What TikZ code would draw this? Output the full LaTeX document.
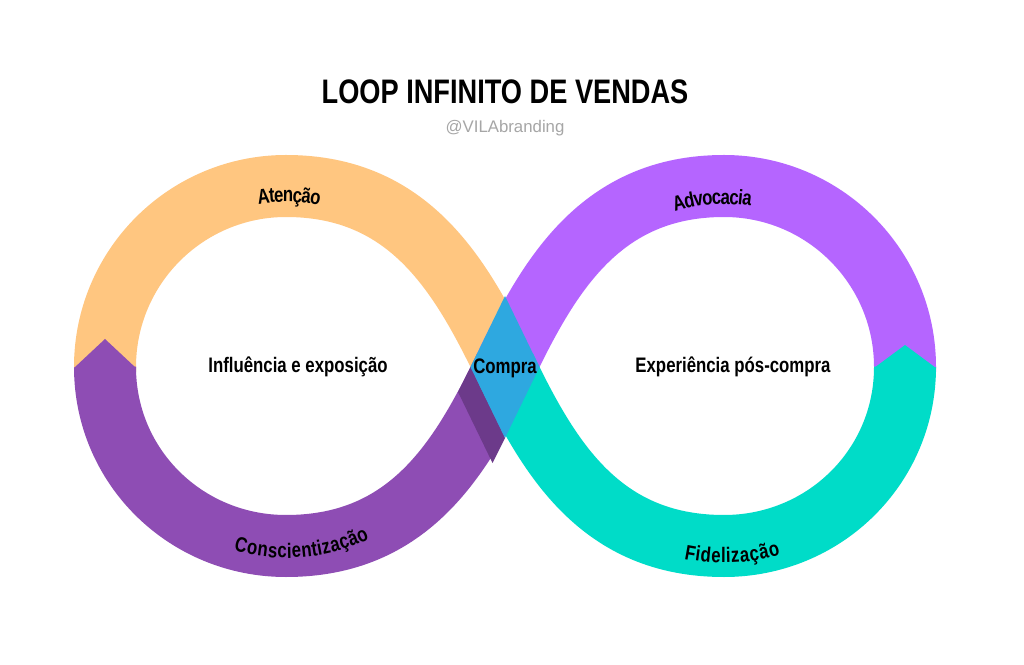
\documentclass[tikz,border=0pt]{standalone}
\usepackage{fontspec}
\setmainfont{Liberation Sans}
\newfontfamily\condfont[FakeStretch=0.8]{Liberation Sans}
\usetikzlibrary{decorations.text}

\definecolor{laranja}{HTML}{FFC680}
\definecolor{roxo}{HTML}{8E4DB4}
\definecolor{lilas}{HTML}{B565FF}
\definecolor{turquesa}{HTML}{00DCC8}
\definecolor{azul}{HTML}{2EA8E0}
\definecolor{roxoesc}{HTML}{6C3A8A}
\definecolor{cinza}{HTML}{A6A6A6}

\newcommand{\lblfont}{\condfont\bfseries\fontsize{21}{24}\selectfont}
\newcommand{\titfont}{\condfont\bfseries\fontsize{34}{40}\selectfont}

\tikzset{
  band/.style={line width=62pt},
  etapa/.style={font=\lblfont, anchor=base},
  rotulo/.style 2 args={decorate, decoration={text along path, text align=center, raise=#2, text={|\lblfont|#1}}}
}

\begin{document}
\begin{tikzpicture}[x=1pt,y=1pt]
	\useasboundingbox [fill=white] (0,0) rectangle (1024,664);
	% left loop
	\draw [band,laranja] (505,297) .. controls (461,388) and (410,478) .. (286,478)
		.. controls (186,478) and (105,397) .. (105,297) -- (105,292);
	% right loop
	\draw [band,lilas] (505,297) .. controls (549,388) and (600,478) .. (724,478)
		.. controls (824,478) and (905,397) .. (905,297) -- (905,292);
	\draw [band,roxo] (105,297) .. controls (105,197) and (186,118) .. (286,118)
		.. controls (410,118) and (461,206) .. (505,297);
	\draw [band,turquesa] (905,297) .. controls (905,197) and (824,118) .. (724,118)
		.. controls (600,118) and (549,206) .. (505,297);
	% junctions
	\fill [roxo] (74,296) -- (105,325) -- (136,296) -- cycle;
	\fill [turquesa] (874,296) -- (905,319) -- (936,296) -- cycle;
	% crossing
	\fill [roxoesc] (470.5,297) -- (505,226) -- (492.5,201) -- (458,272) -- cycle;
	\fill [azul] (505,368) -- (539.5,297) -- (505,226) -- (470.5,297) -- cycle;
	% labels on the bands
	\path [rotulo={Atenção}{-16pt}] (160.3,427.2) arc [start angle=134, end angle=44, radius=181pt];
	\path [rotulo={Advocacia}{-18pt}] (587.4,415.7) arc [start angle=139, end angle=49, radius=181pt];
	\path [rotulo={Conscientização}{-10pt}] (182.2,148.7) arc [start angle=235, end angle=315, radius=181pt];
	\path [rotulo={Fidelização}{-15pt}] (613.8,153.4) arc [start angle=232.5, end angle=312.5, radius=181pt];
	% texts
	\node [etapa] (influencia) at (298,291) {Influência e exposição};
	\node [etapa] (compra) at (505,290) {Compra};
	\node [etapa] (experiencia) at (733,291) {Experiência pós-compra};
	\node [font=\titfont, anchor=base] (titulo) at (505,560) {LOOP INFINITO DE VENDAS};
	\node [font=\fontsize{16.8}{20}\selectfont, text=cinza, anchor=base] (assinatura) at (505,531) {@VILAbranding};
\end{tikzpicture}
\end{document}
